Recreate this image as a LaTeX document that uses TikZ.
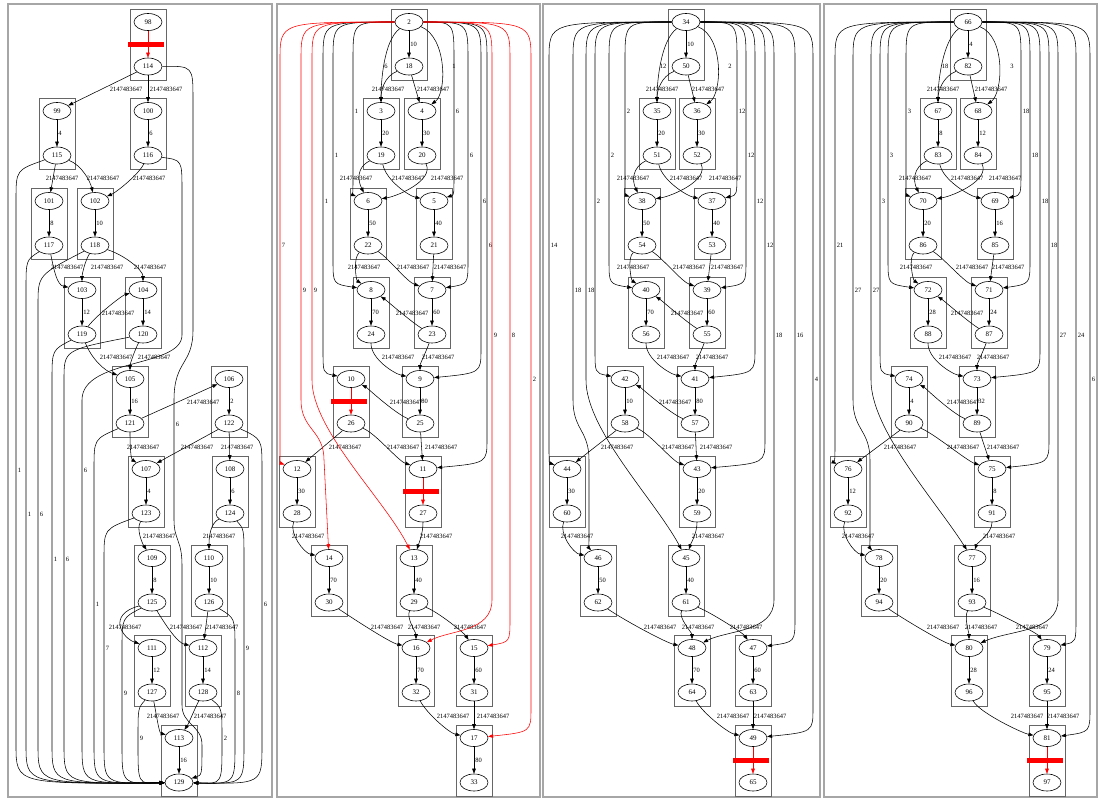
\documentclass[tikz,border=0pt]{standalone}
\usepackage{fontspec}
\setmainfont{Liberation Serif}
\usetikzlibrary{shapes.geometric,arrows.meta}

\tikzset{
  tugas/.style={draw,ellipse,minimum width=28pt,minimum height=17pt,inner sep=0pt,line width=0.6pt,font=\fontsize{7}{8}\selectfont},
  klaster/.style={draw=black!60,line width=1pt},
  bingkai/.style={draw=black!35,line width=1.5pt},
  busur/.style={-{Triangle[length=5pt,width=3.6pt]},line width=0.55pt},
  merah/.style={draw=red},
  bobot/.style={font=\fontsize{6.5}{7}\selectfont,inner sep=0.5pt},
  palang/.style={fill=red}
}
\newcommand\maks{2147483647}
% satu klaster: dua tugas dan busur di antaranya
\newcommand\pasangan[5]{%
  \draw[klaster] (#3-18,#4-13) rectangle (#3+18,#4+58);
  \node[tugas] (n#1) at (#3,#4) {#1};
  \node[tugas] (n#2) at (#3,#4+44.5) {#2};
  \draw[busur] (n#1) -- (n#2) node[bobot,anchor=west] at (#3+0.5,#4+22.5) {#5};}
\newcommand\pasanganmerah[4]{%
  \draw[klaster] (#3-18,#4-13) rectangle (#3+18,#4+58);
  \node[tugas] (n#1) at (#3,#4) {#1};
  \node[tugas] (n#2) at (#3,#4+44.5) {#2};
  \draw[busur,merah] (n#1) -- (n#2);
  \fill[palang] (#3-20,#4+19.5) rectangle (#3+16,#4+24.5);}
\newcommand\sambung[5][--]{\draw[busur] (#2) #1 (#3) node[bobot] at (#4) {#5};}
% busur panjang dari simpul puncak
\newcommand\jauh[7][]{%
  \draw[busur,#1] (#2) .. controls (#4,22) .. (#4,60) -- (#4,#5-30)
    .. controls (#4,#5-6) .. (#3) node[bobot,anchor=west] at (#4+1,#6) {#7};}
% busur panjang ke simpul 129
\newcommand\keakhir[6][15]{%
  \draw[busur] (#2) .. controls (#4,#3+#1) .. (#4,#3+#1+30) -- (#4,745)
    .. controls (#4,784) .. (n129) node[bobot,anchor=west] at (#4+1,#5) {#6};}

\begin{document}
\begin{tikzpicture}[x=1pt,y=-1pt]
  \useasboundingbox (0,0) rectangle (1101,801);
  % Panel 1
  \draw[bingkai] (8,4) rectangle (272,797);
  \pasanganmerah{98}{114}{148}{22}
  \pasangan{99}{115}{57}{111}{4}
  \pasangan{100}{116}{148}{111}{6}
  \pasangan{101}{117}{49}{201}{8}
  \pasangan{102}{118}{95}{201}{10}
  \pasangan{103}{119}{82}{290}{12}
  \pasangan{104}{120}{143}{290}{14}
  \pasangan{105}{121}{130}{379}{16}
  \pasangan{106}{122}{229}{379}{2}
  \pasangan{107}{123}{146}{469}{4}
  \pasangan{108}{124}{230}{469}{6}
  \pasangan{109}{125}{152}{558}{8}
  \pasangan{110}{126}{209}{558}{10}
  \pasangan{111}{127}{152}{648}{12}
  \pasangan{112}{128}{203}{648}{14}
  \pasangan{113}{129}{179}{738}{16}
  \sambung{n114}{n99}{126,89}{\maks}
  \sambung{n114}{n100}{166,89}{\maks}
  \sambung{n115}{n101}{62,178}{\maks}
  \sambung[.. controls +(25,10) and +(-5,-20) ..]{n115}{n102}{103,178}{\maks}
  \sambung[.. controls +(-10,20) and +(20,-8) ..]{n116}{n102}{149,178}{\maks}
  \sambung[.. controls +(5,25) and +(-25,-5) ..]{n117}{n103}{67,267}{\maks}
  \sambung[.. controls +(-10,15) and +(0,-15) ..]{n118}{n103}{107,267}{\maks}
  \sambung[.. controls +(30,10) and +(0,-20) ..]{n118}{n104}{150,267}{\maks}
  \sambung[.. controls +(15,-20) and +(-20,5) ..]{n119}{n104}{118,313}{\maks}
  \sambung[.. controls +(10,25) and +(-25,-8) ..]{n119}{n105}{116,357}{\maks}
  \sambung[.. controls +(-8,15) and +(0,-15) ..]{n120}{n105}{154,357}{\maks}
  \sambung{n121}{n106}{203,402}{\maks}
  \sambung[.. controls +(0,25) and +(-15,-10) ..]{n121}{n107}{143,447}{\maks}
  \sambung{n122}{n107}{197,447}{\maks}
  \sambung{n122}{n108}{237,447}{\maks}
  \sambung[.. controls +(-10,15) and +(-10,-15) ..]{n123}{n109}{159,536}{\maks}
  \sambung[.. controls +(-20,10) and +(0,-20) ..]{n124}{n110}{219,536}{\maks}
  \sambung[.. controls +(-45,12) and +(-30,-10) ..]{n125}{n111}{125,627}{\maks}
  \sambung[.. controls +(15,25) and +(-25,-5) ..]{n125}{n112}{186,627}{\maks}
  \sambung{n126}{n112}{222,627}{\maks}
  \sambung[.. controls +(5,25) and +(-20,-5) ..]{n127}{n113}{163,716}{\maks}
  \sambung[.. controls +(-10,20) and +(10,-15) ..]{n128}{n113}{210,716}{\maks}
  \keakhir{n115}{155}{16}{470}{1}
  \keakhir{n117}{245}{26}{514}{1}
  \keakhir[30]{n118}{245}{38}{514}{6}
  \keakhir{n119}{335}{52}{559}{1}
  \keakhir{n120}{335}{64}{559}{6}
  \keakhir{n121}{424}{94}{604}{1}
  \keakhir{n123}{514}{104}{648}{7}
  \keakhir{n125}{603}{122}{693}{9}
  \keakhir{n127}{693}{138}{738}{9}
  \keakhir{n128}{693}{222}{738}{2}
  \keakhir{n126}{603}{235}{693}{8}
  \keakhir{n124}{514}{244}{648}{9}
  \keakhir{n122}{424}{262}{604}{6}
  \draw[busur] (n116) .. controls (182,160) .. (182,190) -- (182,335)
    .. controls (182,368) and (82,358) .. (82,400) -- (82,745)
    .. controls (82,784) .. (n129) node[bobot,anchor=west] at (83,470) {6};
  \draw[busur] (n114) .. controls (193,66) .. (193,100) -- (193,330)
    .. controls (193,365) and (174,360) .. (174,400) -- (174,520)
    .. controls (174,540) and (182,540) .. (182,565) -- (182,705)
    .. controls (182,725) and (202,725) .. (202,745)
    .. controls (202,775) .. (n129) node[bobot,anchor=west] at (175,424) {6};

  % Panel 2
  \draw[bingkai] (277,4) rectangle (540,797);
  \pasangan{2}{18}{409}{22}{10}
  \pasangan{3}{19}{381}{111}{20}
  \pasangan{4}{20}{422}{111}{30}
  \pasangan{6}{22}{368}{201}{50}
  \pasangan{5}{21}{434}{201}{40}
  \pasangan{8}{24}{371}{290}{70}
  \pasangan{7}{23}{432}{290}{60}
  \pasanganmerah{10}{26}{351}{379}
  \pasangan{9}{25}{420}{379}{80}
  \pasangan{12}{28}{297}{469}{30}
  \pasanganmerah{11}{27}{423}{469}
  \pasangan{14}{30}{329}{558}{70}
  \pasangan{13}{29}{414}{558}{40}
  \pasangan{16}{32}{416}{648}{70}
  \pasangan{15}{31}{474}{648}{60}
  \pasangan{17}{33}{474}{738}{80}
  \sambung[.. controls +(-25,10) and +(0,-20) ..]{n18}{n3}{388,89}{\maks}
  \sambung{n18}{n4}{433,89}{\maks}
  \sambung[.. controls +(-25,18) and +(0,-30) ..]{n2}{n3}{386,66}{6}
  \sambung[.. controls +(38,15) and +(25,-18) ..]{n2}{n4}{454,66}{1}
  \sambung[.. controls +(-25,12) and +(-10,-20) ..]{n19}{n6}{356,178}{\maks}
  \sambung[.. controls +(5,25) and +(-25,-5) ..]{n19}{n5}{408,178}{\maks}
  \sambung[.. controls +(12,25) and +(30,-5) ..]{n20}{n6}{447,178}{\maks}
  \sambung[.. controls +(-15,12) and +(-15,-10) ..]{n22}{n8}{364,267}{\maks}
  \sambung[.. controls +(20,12) and +(-25,-8) ..]{n22}{n7}{413,267}{\maks}
  \sambung{n21}{n7}{450,267}{\maks}
  \sambung[.. controls +(-20,-12) and +(15,10) ..]{n23}{n8}{412,313}{\maks}
  \sambung[.. controls +(0,25) and +(-25,-5) ..]{n24}{n9}{398,357}{\maks}
  \sambung[.. controls +(-5,15) and +(0,-15) ..]{n23}{n9}{438,357}{\maks}
  \sambung[.. controls +(-25,-10) and +(15,8) ..]{n25}{n10}{406,402}{\maks}
  \sambung{n26}{n12}{345,447}{\maks}
  \sambung[.. controls +(25,10) and +(-25,-8) ..]{n26}{n11}{403,447}{\maks}
  \sambung{n25}{n11}{441,447}{\maks}
  \sambung[.. controls +(-8,20) and +(-25,-5) ..]{n28}{n14}{308,536}{\maks}
  \sambung[.. controls +(0,20) and +(5,-15) ..]{n27}{n13}{436,536}{\maks}
  \sambung[.. controls +(30,20) and +(-25,-5) ..]{n30}{n16}{387,627}{\maks}
  \sambung[.. controls +(-8,15) and +(0,-15) ..]{n29}{n16}{424,627}{\maks}
  \sambung[.. controls +(25,10) and +(-10,-15) ..]{n29}{n15}{470,627}{\maks}
  \sambung[.. controls +(10,20) and +(-25,-5) ..]{n32}{n17}{453,716}{\maks}
  \sambung{n31}{n17}{493,716}{\maks}
  \jauh{n2}{n6}{353}{201}{111}{1}
  \jauh{n2}{n8}{333}{290}{155}{1}
  \jauh{n2}{n10}{323}{379}{201}{1}
  \jauh[merah]{n2}{n12}{280}{469}{245}{7}
  \draw[busur,merah] (n2) .. controls (301,22) .. (301,60) -- (301,400)
    .. controls (301,430) and (324,430) .. (324,460) -- (n14)
    node[bobot,anchor=west] at (302,290) {9};
  \draw[busur,merah] (n2) .. controls (312,22) .. (312,60) -- (312,380)
    .. controls (312,430) and (385,500) .. (n13)
    node[bobot,anchor=west] at (313,290) {9};
  \jauh{n2}{n5}{454}{201}{111}{6}
  \jauh{n2}{n7}{468}{290}{155}{6}
  \jauh{n2}{n9}{481}{379}{201}{6}
  \jauh{n2}{n11}{487}{469}{245}{6}
  \draw[busur,merah] (n2) .. controls (492,22) .. (492,60) -- (492,600)
    .. controls (492,632) and (450,630) .. (n16)
    node[bobot,anchor=west] at (493,335) {9};
  \jauh[merah]{n2}{n15}{510}{648}{335}{8}
  \jauh[merah]{n2}{n17}{531}{738}{379}{2}

  % Panel 3
  \draw[bingkai] (543,4) rectangle (820,797);
  \pasangan{34}{50}{686}{22}{10}
  \pasangan{35}{51}{657}{111}{20}
  \pasangan{36}{52}{697}{111}{30}
  \pasangan{38}{54}{642}{201}{50}
  \pasangan{37}{53}{712}{201}{40}
  \pasangan{40}{56}{646}{290}{70}
  \pasangan{39}{55}{707}{290}{60}
  \pasangan{42}{58}{625}{379}{10}
  \pasangan{41}{57}{695}{379}{80}
  \pasangan{44}{60}{567}{469}{30}
  \pasangan{43}{59}{697}{469}{20}
  \pasangan{46}{62}{598}{558}{50}
  \pasangan{45}{61}{686}{558}{40}
  \pasangan{48}{64}{692}{648}{70}
  \pasangan{47}{63}{753}{648}{60}
  \pasanganmerah{49}{65}{753}{738}
  \sambung[.. controls +(-25,10) and +(0,-20) ..]{n50}{n35}{662,89}{\maks}
  \sambung{n50}{n36}{708,89}{\maks}
  \sambung[.. controls +(-25,18) and +(0,-30) ..]{n34}{n35}{663,66}{12}
  \sambung[.. controls +(38,15) and +(25,-18) ..]{n34}{n36}{730,66}{2}
  \sambung[.. controls +(-25,12) and +(-10,-20) ..]{n51}{n38}{633,178}{\maks}
  \sambung[.. controls +(5,25) and +(-25,-5) ..]{n51}{n37}{686,178}{\maks}
  \sambung[.. controls +(12,25) and +(30,-5) ..]{n52}{n38}{725,178}{\maks}
  \sambung[.. controls +(-15,12) and +(-15,-10) ..]{n54}{n40}{633,267}{\maks}
  \sambung[.. controls +(20,12) and +(-25,-8) ..]{n54}{n39}{689,267}{\maks}
  \sambung{n53}{n39}{727,267}{\maks}
  \sambung[.. controls +(-20,-12) and +(15,10) ..]{n55}{n40}{687,313}{\maks}
  \sambung[.. controls +(0,25) and +(-25,-5) ..]{n56}{n41}{673,357}{\maks}
  \sambung[.. controls +(-5,15) and +(0,-15) ..]{n55}{n41}{712,357}{\maks}
  \sambung[.. controls +(-25,-10) and +(15,8) ..]{n57}{n42}{675,402}{\maks}
  \sambung{n58}{n44}{617,447}{\maks}
  \sambung[.. controls +(25,10) and +(-25,-8) ..]{n58}{n43}{678,447}{\maks}
  \sambung{n57}{n43}{716,447}{\maks}
  \sambung[.. controls +(-8,20) and +(-25,-5) ..]{n60}{n46}{577,536}{\maks}
  \sambung[.. controls +(0,20) and +(5,-15) ..]{n59}{n45}{708,536}{\maks}
  \sambung[.. controls +(30,20) and +(-25,-5) ..]{n62}{n48}{660,627}{\maks}
  \sambung[.. controls +(-8,15) and +(0,-15) ..]{n61}{n48}{698,627}{\maks}
  \sambung[.. controls +(25,10) and +(-10,-15) ..]{n61}{n47}{746,627}{\maks}
  \sambung[.. controls +(10,20) and +(-25,-5) ..]{n64}{n49}{733,716}{\maks}
  \sambung{n63}{n49}{770,716}{\maks}
  \jauh{n34}{n38}{625}{201}{111}{2}
  \jauh{n34}{n40}{609}{290}{155}{2}
  \jauh{n34}{n42}{595}{379}{201}{2}
  \jauh{n34}{n44}{549}{469}{245}{14}
  \draw[busur] (n34) .. controls (573,22) .. (573,60) -- (573,400)
    .. controls (573,430) and (589,430) .. (589,460) -- (589,530)
    .. controls (589,548) .. (n46) node[bobot,anchor=west] at (574,290) {18};
  \draw[busur] (n34) .. controls (586,22) .. (586,60) -- (586,380)
    .. controls (586,430) and (655,500) .. (n45)
    node[bobot,anchor=west] at (587,290) {18};
  \jauh{n34}{n37}{737}{201}{111}{12}
  \jauh{n34}{n39}{746}{290}{155}{12}
  \jauh{n34}{n41}{755}{379}{201}{12}
  \jauh{n34}{n43}{765}{469}{245}{12}
  \draw[busur] (n34) .. controls (774,22) .. (774,60) -- (774,600)
    .. controls (774,632) and (728,630) .. (n48)
    node[bobot,anchor=west] at (775,335) {18};
  \jauh{n34}{n47}{795}{648}{335}{16}
  \jauh{n34}{n49}{813}{738}{379}{4}

  % Panel 4
  \draw[bingkai] (824,4) rectangle (1097,797);
  \pasangan{66}{82}{968}{22}{4}
  \pasangan{67}{83}{938}{111}{8}
  \pasangan{68}{84}{978}{111}{12}
  \pasangan{70}{86}{923}{201}{20}
  \pasangan{69}{85}{995}{201}{16}
  \pasangan{72}{88}{928}{290}{28}
  \pasangan{71}{87}{989}{290}{24}
  \pasangan{74}{90}{909}{379}{4}
  \pasangan{73}{89}{977}{379}{32}
  \pasangan{76}{92}{848}{469}{12}
  \pasangan{75}{91}{992}{469}{8}
  \pasangan{78}{94}{879}{558}{20}
  \pasangan{77}{93}{972}{558}{16}
  \pasangan{80}{96}{969}{648}{28}
  \pasangan{79}{95}{1047}{648}{24}
  \pasanganmerah{81}{97}{1047}{738}
  \sambung[.. controls +(-25,10) and +(0,-20) ..]{n82}{n67}{943,89}{\maks}
  \sambung{n82}{n68}{991,89}{\maks}
  \sambung[.. controls +(-25,18) and +(0,-30) ..]{n66}{n67}{945,66}{18}
  \sambung[.. controls +(38,15) and +(25,-18) ..]{n66}{n68}{1012,66}{3}
  \sambung[.. controls +(-25,12) and +(-10,-20) ..]{n83}{n70}{915,178}{\maks}
  \sambung[.. controls +(5,25) and +(-25,-5) ..]{n83}{n69}{967,178}{\maks}
  \sambung[.. controls +(12,25) and +(30,-5) ..]{n84}{n70}{1005,178}{\maks}
  \sambung[.. controls +(-15,12) and +(-15,-10) ..]{n86}{n72}{916,267}{\maks}
  \sambung[.. controls +(20,12) and +(-25,-8) ..]{n86}{n71}{972,267}{\maks}
  \sambung{n85}{n71}{1008,267}{\maks}
  \sambung[.. controls +(-20,-12) and +(15,10) ..]{n87}{n72}{967,313}{\maks}
  \sambung[.. controls +(0,25) and +(-25,-5) ..]{n88}{n73}{955,357}{\maks}
  \sambung[.. controls +(-5,15) and +(0,-15) ..]{n87}{n73}{993,357}{\maks}
  \sambung[.. controls +(-25,-10) and +(15,8) ..]{n89}{n74}{963,402}{\maks}
  \sambung{n90}{n76}{900,447}{\maks}
  \sambung[.. controls +(25,10) and +(-25,-8) ..]{n90}{n75}{963,447}{\maks}
  \sambung{n89}{n75}{1003,447}{\maks}
  \sambung[.. controls +(-8,20) and +(-25,-5) ..]{n92}{n78}{858,536}{\maks}
  \sambung[.. controls +(0,20) and +(5,-15) ..]{n91}{n77}{999,536}{\maks}
  \sambung[.. controls +(30,20) and +(-25,-5) ..]{n94}{n80}{943,627}{\maks}
  \sambung[.. controls +(-8,15) and +(0,-15) ..]{n93}{n80}{981,627}{\maks}
  \sambung[.. controls +(25,10) and +(-10,-15) ..]{n93}{n79}{1032,627}{\maks}
  \sambung[.. controls +(10,20) and +(-25,-5) ..]{n96}{n81}{1027,716}{\maks}
  \sambung{n95}{n81}{1063,716}{\maks}
  \jauh{n66}{n70}{906}{201}{111}{3}
  \jauh{n66}{n72}{888}{290}{155}{3}
  \jauh{n66}{n74}{880}{379}{201}{3}
  \jauh{n66}{n76}{835}{469}{245}{21}
  \draw[busur] (n66) .. controls (853,22) .. (853,60) -- (853,400)
    .. controls (853,430) and (870,430) .. (870,460) -- (870,530)
    .. controls (870,548) .. (n78) node[bobot,anchor=west] at (854,290) {27};
  \draw[busur] (n66) .. controls (871,22) .. (871,60) -- (871,380)
    .. controls (871,430) and (935,500) .. (n77)
    node[bobot,anchor=west] at (872,290) {27};
  \jauh{n66}{n69}{1021}{201}{111}{18}
  \jauh{n66}{n71}{1030}{290}{155}{18}
  \jauh{n66}{n73}{1040}{379}{201}{18}
  \jauh{n66}{n75}{1049}{469}{245}{18}
  \draw[busur] (n66) .. controls (1058,22) .. (1058,60) -- (1058,600)
    .. controls (1058,632) and (1010,630) .. (n80)
    node[bobot,anchor=west] at (1059,335) {27};
  \jauh{n66}{n79}{1076}{648}{335}{24}
  \jauh{n66}{n81}{1090}{738}{379}{6}
\end{tikzpicture}
\end{document}
